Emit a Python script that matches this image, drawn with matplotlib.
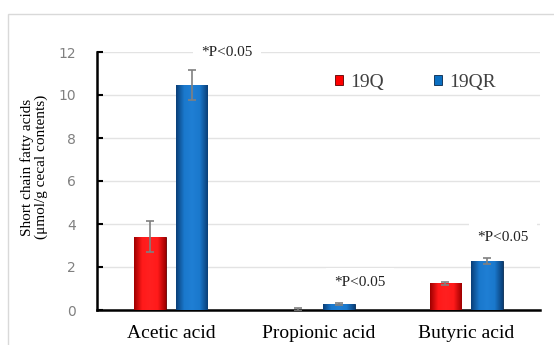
import numpy as np
import matplotlib
matplotlib.use("Agg")
import matplotlib.pyplot as plt
from matplotlib.patches import Rectangle
from matplotlib.colors import LinearSegmentedColormap

categories = ["Acetic acid", "Propionic acid", "Butyric acid"]
series_names = ["19Q", "19QR"]
vals_19q = [3.40, 0.02, 1.25]
err_19q = [0.72, 0.08, 0.07]
vals_19qr = [10.45, 0.28, 2.28]
err_19qr = [0.70, 0.04, 0.14]
annot_text = "*P<0.05"
annot_x = [0.38, 1.28, 2.25]
annot_y = [12.0, 1.26, 3.35]
yticks = [0, 2, 4, 6, 8, 10, 12]

serif = "Liberation Serif"
fig = plt.figure(figsize=(5.54, 3.45), dpi=100)
fig.patches.append(Rectangle((8/554, -0.1), 1.2, 1 - 14/345 + 0.1, transform=fig.transFigure,
                             fill=False, edgecolor="#d9d9d9", linewidth=1.0))
ax = fig.add_axes([97/554, 1 - 310/345, (540-97)/554, (310-52)/345])
ax.set_xlim(-0.5, 2.5)
ax.set_ylim(0, 12)

x = np.arange(len(categories))
w = 0.215
off = 0.14
colors = ["#ff0000", "#0a6fc2"]
cmaps = [
    LinearSegmentedColormap.from_list("r", ["#a00000", "#ff1a1a", "#ff2020", "#ff1a1a", "#a00000"]),
    LinearSegmentedColormap.from_list("b", ["#0a3f78", "#1a78cc", "#1f7fd4", "#1a78cc", "#0a3f78"]),
]
grad = np.linspace(0, 1, 64).reshape(1, -1)
for i, (vals, errs) in enumerate([(vals_19q, err_19q), (vals_19qr, err_19qr)]):
    xs = x + (i * 2 - 1) * off
    bars = ax.bar(xs, vals, w, color=colors[i], edgecolor="#5a0000" if i == 0 else "#06264a",
                  linewidth=0.6, zorder=3, label=series_names[i])
    for b in bars:
        im = ax.imshow(grad, cmap=cmaps[i], aspect="auto", zorder=3.5,
                       extent=[b.get_x(), b.get_x() + b.get_width(), 0, b.get_height()])
        im.set_clip_path(b)
    ax.errorbar(xs, vals, yerr=errs, fmt="none", ecolor="#808080", elinewidth=1.2,
                capsize=3, capthick=1.2, zorder=4)
ax.set_xlim(-0.5, 2.5)
ax.set_ylim(0, 12)

ax.set_yticks(yticks)
ax.set_yticklabels([str(t) for t in yticks], color="#808080", fontsize=10, family="DejaVu Sans")
ax.yaxis.grid(True, color="#e3e3e3", linewidth=1.0, zorder=0)
ax.set_axisbelow(True)
ax.tick_params(axis="y", direction="in", length=4, width=1.5, color="black", pad=15)
ax.set_xticks(x)
ax.set_xticklabels(categories, fontsize=14, family=serif)
ax.tick_params(axis="x", length=0, pad=11)
for s in ["top", "right"]:
    ax.spines[s].set_visible(False)
ax.spines["left"].set_linewidth(1.8)
ax.spines["bottom"].set_linewidth(1.8)

for tx, ty in zip(annot_x, annot_y):
    ax.text(tx, ty, annot_text, fontsize=11, family=serif, color="#222222", ha="center", va="center",
            bbox=dict(facecolor="white", edgecolor="none", pad=6), zorder=2)

fig.text(34/554, 1 - 167/345, "Short chain fatty acids\n(μmol/g cecal contents)", fontsize=11,
         family=serif, rotation=90, ha="center", va="center", multialignment="center",
         linespacing=1.1)

leg = ax.legend(loc="center left", bbox_to_anchor=((335-97)/443, (310-82)/258), ncol=2, frameon=False,
                prop={"family": serif, "size": 14}, handlelength=0.42, handleheight=0.42,
                handletextpad=0.35, columnspacing=2.6, borderpad=0, borderaxespad=0)
for t in leg.get_texts():
    t.set_color("#404040")

fig.savefig("out.png", dpi=100)
